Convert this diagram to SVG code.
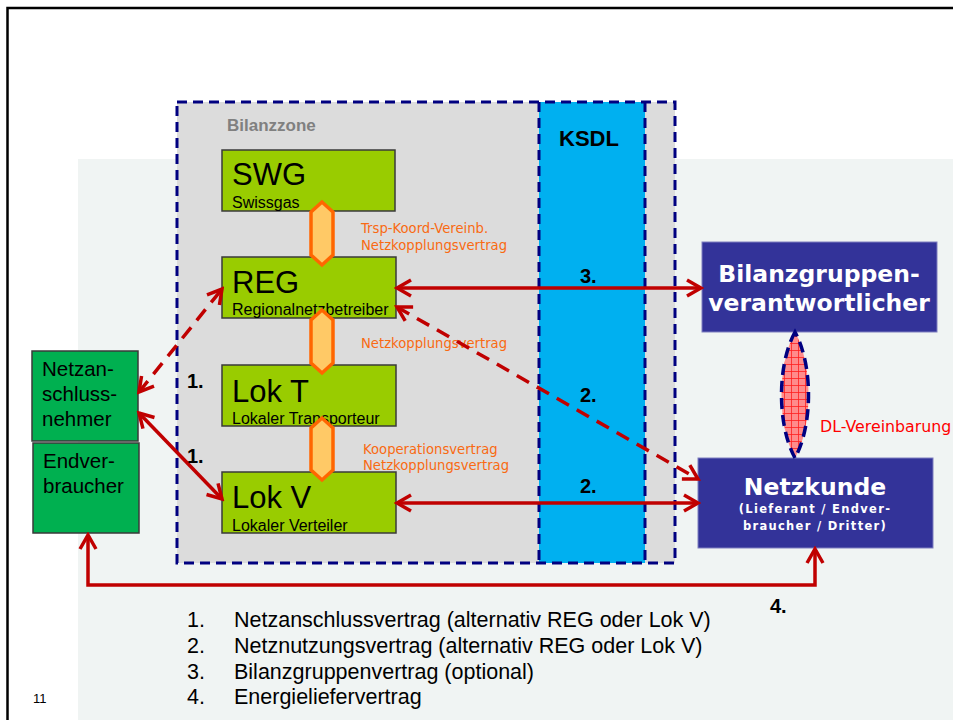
<svg xmlns="http://www.w3.org/2000/svg" width="953" height="720" viewBox="0 0 953 720">
<style>
.frame{fill:none;stroke:#000;stroke-width:2.5}
.zone{fill:#dcdcdc}
.nav{fill:none;stroke:#000080;stroke-width:3;stroke-dasharray:10 6}
.gbox{fill:#99cc00;stroke:#3a3a3a;stroke-width:1.5}
.dgbox{fill:#00b050;stroke:#3a3a3a;stroke-width:1.5}
.bbox{fill:#333399;stroke:#7f7fbf;stroke-width:1}
.hex{fill:#ffc966;stroke:#ff6600;stroke-width:3.5;stroke-linejoin:miter}
.big{font-family:"Liberation Sans",Arial,sans-serif;font-size:31px;fill:#000}
.sub{font-family:"Liberation Sans",Arial,sans-serif;font-size:16px;fill:#000}
.lt{font-family:"Liberation Sans",Arial,sans-serif;font-size:20.5px;fill:#000}
.num{font-family:"Liberation Sans",Arial,sans-serif;font-size:20px;font-weight:bold;fill:#000}
.org{font-family:"DejaVu Sans",Verdana,sans-serif;font-size:13.2px;fill:#f96a12}
.wt{font-family:"DejaVu Sans",Verdana,sans-serif;font-weight:bold;fill:#fff;text-anchor:middle}
.leg{font-family:"Liberation Sans",Arial,sans-serif;font-size:21.5px;fill:#000}
.arr{fill:none;stroke:#c00000;stroke-width:3.5;marker-start:url(#ah);marker-end:url(#ah)}
.dash{stroke-dasharray:14 9}
</style>
<defs>
<marker id="ah" markerUnits="userSpaceOnUse" markerWidth="20" markerHeight="20" viewBox="0 0 20 20" refX="17" refY="10" orient="auto-start-reverse">
<path d="M3,2 L17,10 L3,18" fill="none" stroke="#c00000" stroke-width="3.5" stroke-dasharray="none"/>
</marker>
<pattern id="grid" patternUnits="userSpaceOnUse" width="7" height="7">
<rect width="7" height="7" fill="#ff8c8c"/>
<path d="M0,0.5 H7 M0.5,0 V7" stroke="#ff2020" stroke-width="0.8"/>
</pattern>
</defs>

<rect x="0" y="0" width="953" height="720" fill="#fff"/>
<rect x="78" y="159" width="875" height="561" fill="#f0f4f3"/>
<path class="frame" d="M7.5,720 V8 H953"/>

<g id="bilanzzone">
<rect class="zone" x="177" y="102" width="498" height="461"/>
<rect x="539" y="102" width="106" height="461" fill="#00b0f0"/>
<path class="nav" d="M539,102 V563 M645,102 V563"/>
<rect class="nav" x="177" y="102" width="498" height="461"/>
<text x="227" y="131" font-family="'Liberation Sans',Arial,sans-serif" font-size="17" font-weight="bold" fill="#808080">Bilanzzone</text>
<text x="589" y="146" font-family="'Liberation Sans',Arial,sans-serif" font-size="22" font-weight="bold" fill="#000" text-anchor="middle">KSDL</text>
</g>

<g id="swg">
<rect class="gbox" x="222" y="150" width="173" height="61"/>
<text class="big" x="232" y="185">SWG</text>
<text class="sub" x="232" y="208">Swissgas</text>
</g>
<g id="reg">
<rect class="gbox" x="222" y="257" width="174" height="61"/>
<text class="big" x="232" y="293">REG</text>
<text class="sub" x="232" y="315">Regionalnetzbetreiber</text>
</g>
<g id="lokt">
<rect class="gbox" x="222" y="365" width="174" height="61"/>
<text class="big" x="232" y="402">Lok T</text>
<text class="sub" x="232" y="424">Lokaler Transporteur</text>
</g>
<g id="lokv">
<rect class="gbox" x="222" y="472" width="174" height="61"/>
<text class="big" x="232" y="508">Lok V</text>
<text class="sub" x="232" y="531">Lokaler Verteiler</text>
</g>

<g id="hex-swg-reg">
<polygon class="hex" points="322,202 311,212 311,255 322,265 333,255 333,212"/>
<text class="org" x="361" y="233">Trsp-Koord-Vereinb.</text>
<text class="org" x="361" y="250">Netzkopplungsvertrag</text>
</g>
<g id="hex-reg-lokt">
<polygon class="hex" points="322,310 311,320 311,363 322,373 333,363 333,320"/>
<text class="org" x="361" y="348">Netzkopplungsvertrag</text>
</g>
<g id="hex-lokt-lokv">
<polygon class="hex" points="322,418 311,428 311,470 322,480 333,470 333,428"/>
<text class="org" x="363" y="454">Kooperationsvertrag</text>
<text class="org" x="363" y="470">Netzkopplungsvertrag</text>
</g>

<g id="netzanschlussnehmer">
<rect class="dgbox" x="32" y="351" width="106" height="90"/>
<text class="lt" x="42" y="376">Netzan-</text>
<text class="lt" x="42" y="401">schluss-</text>
<text class="lt" x="42" y="426">nehmer</text>
</g>
<g id="endverbraucher">
<rect class="dgbox" x="33" y="443" width="106" height="90"/>
<text class="lt" x="43" y="468">Endver-</text>
<text class="lt" x="43" y="493">braucher</text>
</g>

<g id="bgv">
<rect class="bbox" x="702" y="242" width="235" height="90"/>
<text class="wt" x="819" y="282" font-size="23.5">Bilanzgruppen-</text>
<text class="wt" x="819" y="311" font-size="23.5">verantwortlicher</text>
</g>
<g id="netzkunde">
<rect class="bbox" x="698" y="458" width="235" height="90"/>
<text class="wt" x="815" y="495" font-size="23.5">Netzkunde</text>
<text class="wt" x="815" y="513" font-size="11.5" letter-spacing="1.3">(Lieferant / Endver-</text>
<text class="wt" x="815" y="530" font-size="11.5" letter-spacing="1.3">braucher / Dritter)</text>
</g>

<g id="dl-vereinbarung">
<path d="M795,332 C777,365 777,425 795,458 C813,425 813,365 795,332 Z" fill="url(#grid)" stroke="#000080" stroke-width="3.5" stroke-dasharray="11 6"/>
<text x="820" y="432" font-family="'DejaVu Sans',Verdana,sans-serif" font-size="15.8" fill="#ff0000">DL-Vereinbarung</text>
</g>

<g id="connectors">
<path class="arr dash" d="M139,392 L222,289"/>
<path class="arr" d="M139,413 L222,499"/>
<path class="arr" d="M397,288 L701,288"/>
<path class="arr dash" d="M397,307 L698,479"/>
<path class="arr" d="M397,503 L698,503"/>
<path class="arr" d="M88,535 V585 H815 V549"/>
<text class="num" x="187" y="388">1.</text>
<text class="num" x="187" y="463">1.</text>
<text class="num" x="580" y="283">3.</text>
<text class="num" x="580" y="402">2.</text>
<text class="num" x="580" y="493">2.</text>
<text class="num" x="770" y="613" font-size="19">4.</text>
</g>

<g id="legend">
<text class="leg" x="187" y="627">1.</text>
<text class="leg" x="234" y="627">Netzanschlussvertrag (alternativ REG oder Lok V)</text>
<text class="leg" x="187" y="653">2.</text>
<text class="leg" x="234" y="653">Netznutzungsvertrag (alternativ REG oder Lok V)</text>
<text class="leg" x="187" y="679">3.</text>
<text class="leg" x="234" y="679">Bilanzgruppenvertrag (optional)</text>
<text class="leg" x="187" y="704">4.</text>
<text class="leg" x="234" y="704">Energieliefervertrag</text>
<text x="33" y="703" font-family="'Liberation Sans',Arial,sans-serif" font-size="13" fill="#000">11</text>
</g>
</svg>
